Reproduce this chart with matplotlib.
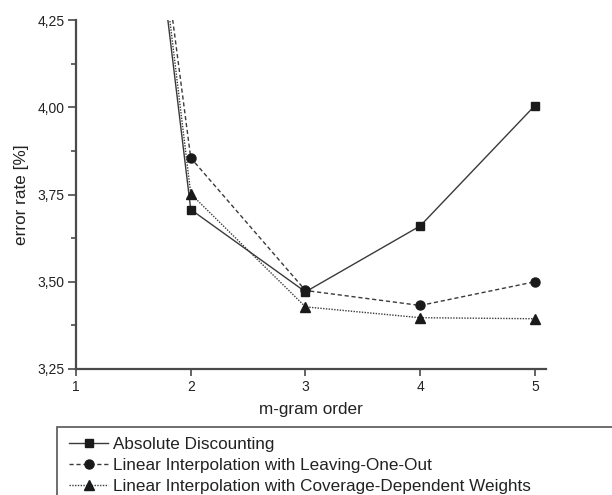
import numpy as np
import matplotlib
matplotlib.use("Agg")
import matplotlib.pyplot as plt
from matplotlib.ticker import FixedLocator, FuncFormatter
from matplotlib.patches import Rectangle

plt.rcParams['font.family'] = ['Liberation Sans', 'DejaVu Sans']

# m-gram order and error rates [%] (first point lies above the plotted range)
orders = [1, 2, 3, 4, 5]
absolute_discounting = [6.43, 3.707, 3.471, 3.66, 4.005]
leaving_one_out = [6.37, 3.855, 3.475, 3.432, 3.50]
coverage_weights = [6.48, 3.752, 3.428, 3.397, 3.394]
labels = ["Absolute Discounting",
          "Linear Interpolation with Leaving-One-Out",
          "Linear Interpolation with Coverage-Dependent Weights"]

line_col = '#3a3a3a'
axis_col = '#4a4a4a'

fig = plt.figure(figsize=(6.12, 4.95), dpi=100)
ax = fig.add_axes([76/612, 1-369/495, 470/612, 349/495])

ax.plot(orders, absolute_discounting, color=line_col, lw=1.0, ls='-',
        marker='s', ms=6, mfc='#1a1a1a', mec='#1a1a1a', label=labels[0])
ax.plot(orders, leaving_one_out, color=line_col, lw=1.0, ls=(0, (3, 2)),
        marker='o', ms=6.5, mfc='#1a1a1a', mec='#1a1a1a', label=labels[1])
ax.plot(orders, coverage_weights, color=line_col, lw=1.0, ls=(0, (1, 1)),
        marker='^', ms=7.5, mfc='#1a1a1a', mec='#1a1a1a', label=labels[2])

ax.set_xlim(1, 5.096)
ax.set_ylim(3.25, 4.25)

ax.spines['top'].set_visible(False)
ax.spines['right'].set_visible(False)
for s in ('left', 'bottom'):
    ax.spines[s].set_color(axis_col)
    ax.spines[s].set_linewidth(1.6)

ax.xaxis.set_major_locator(FixedLocator(orders))
ax.yaxis.set_major_locator(FixedLocator([3.25, 3.50, 3.75, 4.00, 4.25]))
ax.yaxis.set_minor_locator(FixedLocator([3.375, 3.625, 3.875, 4.125]))
ax.yaxis.set_major_formatter(FuncFormatter(lambda v, p: f"{v:.2f}".replace('.', ',')))

ax.tick_params(axis='both', which='major', direction='out', length=6, width=1.2,
               color=axis_col, labelsize=10, labelcolor='#222222', pad=2)
ax.tick_params(axis='y', which='minor', direction='out', length=3.5, width=1.2,
               color=axis_col)
ax.tick_params(axis='x', which='major', length=5, pad=3)

ax.set_xlabel("m-gram order", fontsize=12.3, color='#222222', labelpad=6)
ax.set_ylabel("error rate [%]", fontsize=12.3, color='#222222', labelpad=6)

# legend box running off the right and bottom edges
fig.patches.append(Rectangle((57/612, -0.2), 1.0, 0.2 + 1 - 427/495,
                             transform=fig.transFigure, fill=False,
                             edgecolor='#555555', lw=1.2))

handles, labs = ax.get_legend_handles_labels()
fig.legend(handles, labs, loc='upper left', bbox_to_anchor=(69/612, 1 - 437/495),
           frameon=False, fontsize=12.3, handlelength=2.3, handletextpad=0.3,
           labelspacing=0.36, borderpad=0, borderaxespad=0, labelcolor='#222222')

fig.savefig("out.png", dpi=100)
